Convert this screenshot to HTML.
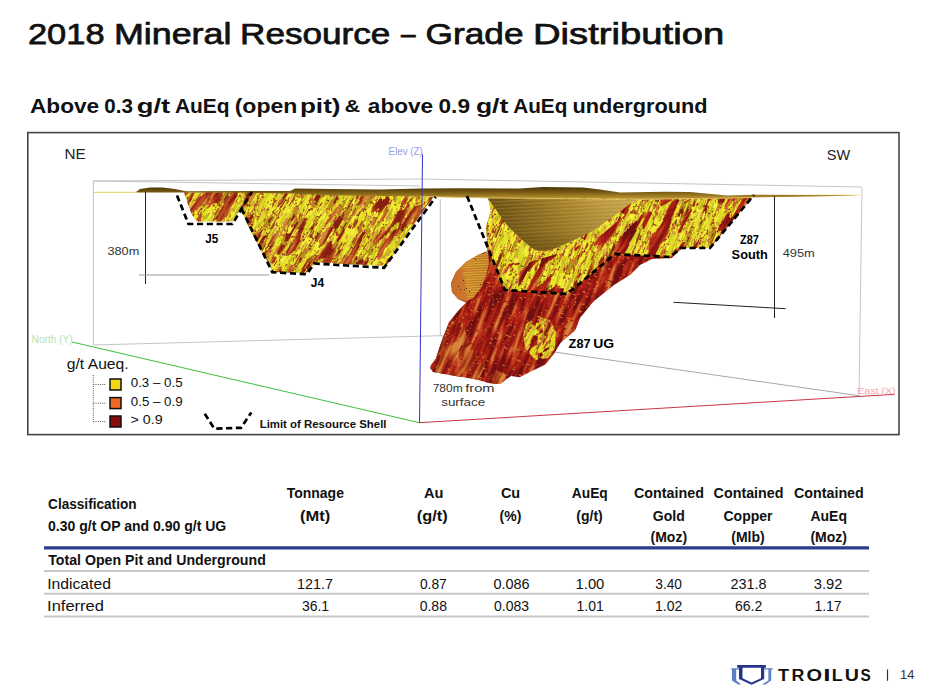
<!DOCTYPE html>
<html><head><meta charset="utf-8"><title>2018 Mineral Resource – Grade Distribution</title>
<style>
html,body{margin:0;padding:0;background:#fff;}
body{width:930px;height:692px;overflow:hidden;position:relative;}
svg{position:absolute;left:0;top:0;display:block;}
.t{font-family:"Liberation Sans",Arial,sans-serif;}
.ti{stroke:#111;stroke-width:0.75px;}
.sb{stroke:#111;stroke-width:0.25px;}
</style></head>
<body>
<svg width="930" height="692" viewBox="0 0 930 692">

<defs>
<filter id="fY" color-interpolation-filters="sRGB">
<feTurbulence type="fractalNoise" baseFrequency="0.18 0.03" numOctaves="2" seed="4"/>
<feColorMatrix type="matrix" values="1 0 0 0 0 1 0 0 0 0 1 0 0 0 0 0 0 0 0 1"/>
<feComponentTransfer result="base"><feFuncR type="discrete" tableValues="0.549 0.549 0.549 0.549 0.549 0.549 0.549 0.549 0.549 0.549 0.549 0.549 0.549 0.549 0.549 0.549 0.549 0.549 0.549 0.549 0.549 0.549 0.549 0.549 0.549 0.667 0.667 0.667 0.667 0.667 0.784 0.784 0.784 0.784 0.816 0.816 0.816 0.659 0.659 0.925 0.925 0.925 0.925 0.925 0.925 0.824 0.824 0.769 0.769 0.769 0.769 0.878 0.878 0.878 0.878 0.878 0.878 0.878 0.878 0.878 0.878 0.878 0.878 0.878 0.878 0.878 0.878 0.878 0.878 0.878 0.878 0.878 0.878 0.878 0.878 0.878 0.878 0.878 0.878 0.878"/><feFuncG type="discrete" tableValues="0.110 0.110 0.110 0.110 0.110 0.110 0.110 0.110 0.110 0.110 0.110 0.110 0.110 0.110 0.110 0.110 0.110 0.110 0.110 0.110 0.110 0.110 0.110 0.110 0.110 0.604 0.604 0.604 0.604 0.604 0.439 0.439 0.439 0.439 0.784 0.784 0.784 0.227 0.227 0.902 0.902 0.902 0.902 0.902 0.902 0.580 0.580 0.722 0.722 0.722 0.722 0.855 0.855 0.855 0.855 0.855 0.855 0.855 0.855 0.855 0.855 0.855 0.855 0.855 0.855 0.855 0.855 0.855 0.855 0.855 0.855 0.855 0.855 0.855 0.855 0.855 0.855 0.855 0.855 0.855"/><feFuncB type="discrete" tableValues="0.063 0.063 0.063 0.063 0.063 0.063 0.063 0.063 0.063 0.063 0.063 0.063 0.063 0.063 0.063 0.063 0.063 0.063 0.063 0.063 0.063 0.063 0.063 0.063 0.063 0.094 0.094 0.094 0.094 0.094 0.173 0.173 0.173 0.173 0.125 0.125 0.125 0.110 0.110 0.165 0.165 0.165 0.165 0.165 0.165 0.282 0.282 0.118 0.118 0.118 0.118 0.149 0.149 0.149 0.149 0.149 0.149 0.149 0.149 0.149 0.149 0.149 0.149 0.149 0.149 0.149 0.149 0.149 0.149 0.149 0.149 0.149 0.149 0.149 0.149 0.149 0.149 0.149 0.149 0.149"/></feComponentTransfer>
<feTurbulence type="fractalNoise" baseFrequency="0.6 0.07" numOctaves="1" seed="11"/>
<feColorMatrix type="matrix" values="0 0 0 0 0.957 0 0 0 0 0.941 0 0 0 0 0.251 1 0 0 0 0"/>
<feComponentTransfer><feFuncA type="discrete" tableValues="0 0 0 0 0 0 0 0 0 0 0 0 0 0 0 0 0 0 0 0 0 0 0 0 0 0 0 0 0 0 0 0 0 0 0 0 0 0 0 0 0 0 0 0 0 0 0 0 0 0 1 1 1 1 1 1 1 1 1 1 1 1 1 1 1 1 1 1 1 1 1 1 1 1 1 1 1 1 1 1"/></feComponentTransfer>
<feComposite in2="base" operator="over" result="sp"/>
<feTurbulence type="fractalNoise" baseFrequency="0.25 0.9" numOctaves="1" seed="13"/>
<feColorMatrix type="matrix" values="0 0 0 0 0.353 0 0 0 0 0.165 0 0 0 0 0.031 1 0 0 0 0"/>
<feComponentTransfer><feFuncA type="discrete" tableValues="0 0 0 0 0 0 0 0 0 0 0 0 0 0 0 0 0 0 0 0 0 0 0 0 0 0 0 0 0 0 0 0 0 0 0 0 0 0 0 0 0 0 0 0 0 0 0 0 0 0 0 0 0 0 0 0 0 0 1 1 1 1 1 1 1 1 1 1 1 1 1 1 1 1 1 1 1 1 1 1"/></feComponentTransfer>
<feComposite in2="sp" operator="over"/>
</filter>
<filter id="fR" color-interpolation-filters="sRGB">
<feTurbulence type="fractalNoise" baseFrequency="0.2 0.03" numOctaves="2" seed="9"/>
<feColorMatrix type="matrix" values="1 0 0 0 0 1 0 0 0 0 1 0 0 0 0 0 0 0 0 1"/>
<feComponentTransfer result="base"><feFuncR type="discrete" tableValues="0.439 0.439 0.439 0.439 0.439 0.439 0.439 0.439 0.439 0.439 0.439 0.439 0.439 0.439 0.439 0.439 0.439 0.439 0.439 0.439 0.439 0.439 0.439 0.439 0.439 0.439 0.439 0.439 0.439 0.439 0.565 0.565 0.565 0.565 0.565 0.565 0.565 0.565 0.659 0.659 0.659 0.659 0.659 0.659 0.706 0.706 0.706 0.706 0.706 0.761 0.761 0.761 0.761 0.800 0.800 0.800 0.800 0.800 0.831 0.831 0.831 0.831 0.831 0.831 0.831 0.831 0.831 0.831 0.831 0.831 0.831 0.831 0.831 0.831 0.831 0.831 0.831 0.831 0.831 0.831"/><feFuncG type="discrete" tableValues="0.063 0.063 0.063 0.063 0.063 0.063 0.063 0.063 0.063 0.063 0.063 0.063 0.063 0.063 0.063 0.063 0.063 0.063 0.063 0.063 0.063 0.063 0.063 0.063 0.063 0.063 0.063 0.063 0.063 0.063 0.086 0.086 0.086 0.086 0.086 0.086 0.086 0.086 0.118 0.118 0.118 0.118 0.118 0.118 0.165 0.165 0.165 0.165 0.165 0.259 0.259 0.259 0.259 0.392 0.392 0.392 0.392 0.392 0.525 0.525 0.525 0.525 0.525 0.525 0.525 0.525 0.525 0.525 0.525 0.525 0.525 0.525 0.525 0.525 0.525 0.525 0.525 0.525 0.525 0.525"/><feFuncB type="discrete" tableValues="0.063 0.063 0.063 0.063 0.063 0.063 0.063 0.063 0.063 0.063 0.063 0.063 0.063 0.063 0.063 0.063 0.063 0.063 0.063 0.063 0.063 0.063 0.063 0.063 0.063 0.063 0.063 0.063 0.063 0.063 0.071 0.071 0.071 0.071 0.071 0.071 0.071 0.071 0.078 0.078 0.078 0.078 0.078 0.078 0.094 0.094 0.094 0.094 0.094 0.125 0.125 0.125 0.125 0.188 0.188 0.188 0.188 0.188 0.227 0.227 0.227 0.227 0.227 0.227 0.227 0.227 0.227 0.227 0.227 0.227 0.227 0.227 0.227 0.227 0.227 0.227 0.227 0.227 0.227 0.227"/></feComponentTransfer>
<feTurbulence type="fractalNoise" baseFrequency="0.25 0.9" numOctaves="1" seed="21"/>
<feColorMatrix type="matrix" values="0 0 0 0 0.847 0 0 0 0 0.471 0 0 0 0 0.204 1 0 0 0 0"/>
<feComponentTransfer><feFuncA type="discrete" tableValues="0 0 0 0 0 0 0 0 0 0 0 0 0 0 0 0 0 0 0 0 0 0 0 0 0 0 0 0 0 0 0 0 0 0 0 0 0 0 0 0 0 0 0 0 0 0 0 0 0 0 0 0 0 0 1 1 1 1 1 1 1 1 1 1 1 1 1 1 1 1 1 1 1 1 1 1 1 1 1 1"/></feComponentTransfer>
<feComposite in2="base" operator="over" result="sp"/>
<feTurbulence type="fractalNoise" baseFrequency="0.25 0.9" numOctaves="1" seed="23"/>
<feColorMatrix type="matrix" values="0 0 0 0 0.416 0 0 0 0 0.047 0 0 0 0 0.031 1 0 0 0 0"/>
<feComponentTransfer><feFuncA type="discrete" tableValues="0 0 0 0 0 0 0 0 0 0 0 0 0 0 0 0 0 0 0 0 0 0 0 0 0 0 0 0 0 0 0 0 0 0 0 0 0 0 0 0 0 0 0 0 0 0 0 0 0 0 0 0 0 0 0 0 0 1 1 1 1 1 1 1 1 1 1 1 1 1 1 1 1 1 1 1 1 1 1 1"/></feComponentTransfer>
<feComposite in2="sp" operator="over"/>
</filter>
<filter id="fRB" color-interpolation-filters="sRGB">
<feTurbulence type="fractalNoise" baseFrequency="0.2 0.03" numOctaves="2" seed="31"/>
<feColorMatrix type="matrix" values="1 0 0 0 0 1 0 0 0 0 1 0 0 0 0 0 0 0 0 1"/>
<feComponentTransfer result="base"><feFuncR type="discrete" tableValues="0.439 0.439 0.439 0.439 0.439 0.439 0.439 0.439 0.439 0.439 0.439 0.439 0.439 0.439 0.439 0.439 0.439 0.439 0.439 0.439 0.439 0.439 0.439 0.439 0.439 0.439 0.439 0.439 0.439 0.439 0.565 0.565 0.565 0.565 0.565 0.565 0.565 0.565 0.659 0.659 0.659 0.659 0.659 0.659 0.706 0.706 0.706 0.706 0.706 0.761 0.761 0.761 0.761 0.800 0.800 0.800 0.800 0.800 0.831 0.831 0.831 0.831 0.831 0.831 0.831 0.831 0.831 0.831 0.831 0.831 0.831 0.831 0.831 0.831 0.831 0.831 0.831 0.831 0.831 0.831"/><feFuncG type="discrete" tableValues="0.063 0.063 0.063 0.063 0.063 0.063 0.063 0.063 0.063 0.063 0.063 0.063 0.063 0.063 0.063 0.063 0.063 0.063 0.063 0.063 0.063 0.063 0.063 0.063 0.063 0.063 0.063 0.063 0.063 0.063 0.086 0.086 0.086 0.086 0.086 0.086 0.086 0.086 0.118 0.118 0.118 0.118 0.118 0.118 0.165 0.165 0.165 0.165 0.165 0.259 0.259 0.259 0.259 0.392 0.392 0.392 0.392 0.392 0.525 0.525 0.525 0.525 0.525 0.525 0.525 0.525 0.525 0.525 0.525 0.525 0.525 0.525 0.525 0.525 0.525 0.525 0.525 0.525 0.525 0.525"/><feFuncB type="discrete" tableValues="0.063 0.063 0.063 0.063 0.063 0.063 0.063 0.063 0.063 0.063 0.063 0.063 0.063 0.063 0.063 0.063 0.063 0.063 0.063 0.063 0.063 0.063 0.063 0.063 0.063 0.063 0.063 0.063 0.063 0.063 0.071 0.071 0.071 0.071 0.071 0.071 0.071 0.071 0.078 0.078 0.078 0.078 0.078 0.078 0.094 0.094 0.094 0.094 0.094 0.125 0.125 0.125 0.125 0.188 0.188 0.188 0.188 0.188 0.227 0.227 0.227 0.227 0.227 0.227 0.227 0.227 0.227 0.227 0.227 0.227 0.227 0.227 0.227 0.227 0.227 0.227 0.227 0.227 0.227 0.227"/></feComponentTransfer>
<feTurbulence type="fractalNoise" baseFrequency="0.09 0.02" numOctaves="2" seed="77"/>
<feColorMatrix type="matrix" values="0 0 0 0 0 0 0 0 0 0 0 0 0 0 0 1 0 0 0 0"/>
<feComponentTransfer result="am"><feFuncA type="discrete" tableValues="0 0 0 0 0 0 0 0 0 0 0 0 0 0 0 0 0 0 0 0 0 0 0 0 0 0 0 0 0 0 0 0 0 0 0 0 0 0 0 0 0 0 0 1 1 1 1 1 1 1 1 1 1 1 1 1 1 1 1 1 1 1 1 1 1 1 1 1 1 1 1 1 1 1 1 1 1 1 1 1"/></feComponentTransfer>
<feComposite in="base" in2="am" operator="in"/>
</filter>
<filter id="fRB2" color-interpolation-filters="sRGB">
<feTurbulence type="fractalNoise" baseFrequency="0.2 0.03" numOctaves="2" seed="41"/>
<feColorMatrix type="matrix" values="1 0 0 0 0 1 0 0 0 0 1 0 0 0 0 0 0 0 0 1"/>
<feComponentTransfer result="base"><feFuncR type="discrete" tableValues="0.541 0.541 0.541 0.541 0.541 0.541 0.541 0.541 0.541 0.541 0.541 0.541 0.541 0.541 0.541 0.541 0.541 0.541 0.541 0.541 0.541 0.541 0.541 0.541 0.541 0.541 0.541 0.541 0.541 0.541 0.541 0.541 0.643 0.643 0.643 0.643 0.643 0.643 0.643 0.643 0.737 0.737 0.737 0.737 0.737 0.737 0.800 0.800 0.800 0.800 0.800 0.800 0.831 0.831 0.831 0.831 0.831 0.831 0.831 0.831 0.831 0.831 0.831 0.831 0.831 0.831 0.831 0.831 0.831 0.831 0.831 0.831 0.831 0.831 0.831 0.831 0.831 0.831 0.831 0.831"/><feFuncG type="discrete" tableValues="0.125 0.125 0.125 0.125 0.125 0.125 0.125 0.125 0.125 0.125 0.125 0.125 0.125 0.125 0.125 0.125 0.125 0.125 0.125 0.125 0.125 0.125 0.125 0.125 0.125 0.125 0.125 0.125 0.125 0.125 0.125 0.125 0.204 0.204 0.204 0.204 0.204 0.204 0.204 0.204 0.314 0.314 0.314 0.314 0.314 0.314 0.424 0.424 0.424 0.424 0.424 0.424 0.541 0.541 0.541 0.541 0.541 0.541 0.541 0.541 0.541 0.541 0.541 0.541 0.541 0.541 0.541 0.541 0.541 0.541 0.541 0.541 0.541 0.541 0.541 0.541 0.541 0.541 0.541 0.541"/><feFuncB type="discrete" tableValues="0.063 0.063 0.063 0.063 0.063 0.063 0.063 0.063 0.063 0.063 0.063 0.063 0.063 0.063 0.063 0.063 0.063 0.063 0.063 0.063 0.063 0.063 0.063 0.063 0.063 0.063 0.063 0.063 0.063 0.063 0.063 0.063 0.094 0.094 0.094 0.094 0.094 0.094 0.094 0.094 0.133 0.133 0.133 0.133 0.133 0.133 0.173 0.173 0.173 0.173 0.173 0.173 0.235 0.235 0.235 0.235 0.235 0.235 0.235 0.235 0.235 0.235 0.235 0.235 0.235 0.235 0.235 0.235 0.235 0.235 0.235 0.235 0.235 0.235 0.235 0.235 0.235 0.235 0.235 0.235"/></feComponentTransfer>
<feTurbulence type="fractalNoise" baseFrequency="0.12 0.025" numOctaves="2" seed="87"/>
<feColorMatrix type="matrix" values="0 0 0 0 0 0 0 0 0 0 0 0 0 0 0 1 0 0 0 0"/>
<feComponentTransfer result="am"><feFuncA type="discrete" tableValues="0 0 0 0 0 0 0 0 0 0 0 0 0 0 0 0 0 0 0 0 0 0 0 0 0 0 0 0 0 0 0 0 0 0 0 0 0 0 0 0 0 0 0 0 0 0 0 0 0 0 0 1 1 1 1 1 1 1 1 1 1 1 1 1 1 1 1 1 1 1 1 1 1 1 1 1 1 1 1 1"/></feComponentTransfer>
<feComposite in="base" in2="am" operator="in"/>
</filter>
<filter id="fRB3" color-interpolation-filters="sRGB">
<feTurbulence type="fractalNoise" baseFrequency="0.2 0.03" numOctaves="2" seed="43"/>
<feColorMatrix type="matrix" values="1 0 0 0 0 1 0 0 0 0 1 0 0 0 0 0 0 0 0 1"/>
<feComponentTransfer result="base"><feFuncR type="discrete" tableValues="0.541 0.541 0.541 0.541 0.541 0.541 0.541 0.541 0.541 0.541 0.541 0.541 0.541 0.541 0.541 0.541 0.541 0.541 0.541 0.541 0.541 0.541 0.541 0.541 0.541 0.541 0.541 0.541 0.541 0.541 0.541 0.541 0.643 0.643 0.643 0.643 0.643 0.643 0.643 0.643 0.737 0.737 0.737 0.737 0.737 0.737 0.800 0.800 0.800 0.800 0.800 0.800 0.831 0.831 0.831 0.831 0.831 0.831 0.831 0.831 0.831 0.831 0.831 0.831 0.831 0.831 0.831 0.831 0.831 0.831 0.831 0.831 0.831 0.831 0.831 0.831 0.831 0.831 0.831 0.831"/><feFuncG type="discrete" tableValues="0.125 0.125 0.125 0.125 0.125 0.125 0.125 0.125 0.125 0.125 0.125 0.125 0.125 0.125 0.125 0.125 0.125 0.125 0.125 0.125 0.125 0.125 0.125 0.125 0.125 0.125 0.125 0.125 0.125 0.125 0.125 0.125 0.204 0.204 0.204 0.204 0.204 0.204 0.204 0.204 0.314 0.314 0.314 0.314 0.314 0.314 0.424 0.424 0.424 0.424 0.424 0.424 0.541 0.541 0.541 0.541 0.541 0.541 0.541 0.541 0.541 0.541 0.541 0.541 0.541 0.541 0.541 0.541 0.541 0.541 0.541 0.541 0.541 0.541 0.541 0.541 0.541 0.541 0.541 0.541"/><feFuncB type="discrete" tableValues="0.063 0.063 0.063 0.063 0.063 0.063 0.063 0.063 0.063 0.063 0.063 0.063 0.063 0.063 0.063 0.063 0.063 0.063 0.063 0.063 0.063 0.063 0.063 0.063 0.063 0.063 0.063 0.063 0.063 0.063 0.063 0.063 0.094 0.094 0.094 0.094 0.094 0.094 0.094 0.094 0.133 0.133 0.133 0.133 0.133 0.133 0.173 0.173 0.173 0.173 0.173 0.173 0.235 0.235 0.235 0.235 0.235 0.235 0.235 0.235 0.235 0.235 0.235 0.235 0.235 0.235 0.235 0.235 0.235 0.235 0.235 0.235 0.235 0.235 0.235 0.235 0.235 0.235 0.235 0.235"/></feComponentTransfer>
<feTurbulence type="fractalNoise" baseFrequency="0.12 0.025" numOctaves="2" seed="97"/>
<feColorMatrix type="matrix" values="0 0 0 0 0 0 0 0 0 0 0 0 0 0 0 1 0 0 0 0"/>
<feComponentTransfer result="am"><feFuncA type="discrete" tableValues="0 0 0 0 0 0 0 0 0 0 0 0 0 0 0 0 0 0 0 0 0 0 0 0 0 0 0 0 0 0 0 0 0 0 0 0 0 0 0 0 0 0 0 0 0 0 0 1 1 1 1 1 1 1 1 1 1 1 1 1 1 1 1 1 1 1 1 1 1 1 1 1 1 1 1 1 1 1 1 1"/></feComponentTransfer>
<feComposite in="base" in2="am" operator="in"/>
</filter>
<filter id="fRB5" color-interpolation-filters="sRGB">
<feTurbulence type="fractalNoise" baseFrequency="0.2 0.03" numOctaves="2" seed="45"/>
<feColorMatrix type="matrix" values="1 0 0 0 0 1 0 0 0 0 1 0 0 0 0 0 0 0 0 1"/>
<feComponentTransfer result="base"><feFuncR type="discrete" tableValues="0.541 0.541 0.541 0.541 0.541 0.541 0.541 0.541 0.541 0.541 0.541 0.541 0.541 0.541 0.541 0.541 0.541 0.541 0.541 0.541 0.541 0.541 0.541 0.541 0.541 0.541 0.541 0.541 0.541 0.541 0.541 0.541 0.643 0.643 0.643 0.643 0.643 0.643 0.643 0.643 0.737 0.737 0.737 0.737 0.737 0.737 0.800 0.800 0.800 0.800 0.800 0.800 0.831 0.831 0.831 0.831 0.831 0.831 0.831 0.831 0.831 0.831 0.831 0.831 0.831 0.831 0.831 0.831 0.831 0.831 0.831 0.831 0.831 0.831 0.831 0.831 0.831 0.831 0.831 0.831"/><feFuncG type="discrete" tableValues="0.125 0.125 0.125 0.125 0.125 0.125 0.125 0.125 0.125 0.125 0.125 0.125 0.125 0.125 0.125 0.125 0.125 0.125 0.125 0.125 0.125 0.125 0.125 0.125 0.125 0.125 0.125 0.125 0.125 0.125 0.125 0.125 0.204 0.204 0.204 0.204 0.204 0.204 0.204 0.204 0.314 0.314 0.314 0.314 0.314 0.314 0.424 0.424 0.424 0.424 0.424 0.424 0.541 0.541 0.541 0.541 0.541 0.541 0.541 0.541 0.541 0.541 0.541 0.541 0.541 0.541 0.541 0.541 0.541 0.541 0.541 0.541 0.541 0.541 0.541 0.541 0.541 0.541 0.541 0.541"/><feFuncB type="discrete" tableValues="0.063 0.063 0.063 0.063 0.063 0.063 0.063 0.063 0.063 0.063 0.063 0.063 0.063 0.063 0.063 0.063 0.063 0.063 0.063 0.063 0.063 0.063 0.063 0.063 0.063 0.063 0.063 0.063 0.063 0.063 0.063 0.063 0.094 0.094 0.094 0.094 0.094 0.094 0.094 0.094 0.133 0.133 0.133 0.133 0.133 0.133 0.173 0.173 0.173 0.173 0.173 0.173 0.235 0.235 0.235 0.235 0.235 0.235 0.235 0.235 0.235 0.235 0.235 0.235 0.235 0.235 0.235 0.235 0.235 0.235 0.235 0.235 0.235 0.235 0.235 0.235 0.235 0.235 0.235 0.235"/></feComponentTransfer>
<feTurbulence type="fractalNoise" baseFrequency="0.14 0.04" numOctaves="2" seed="57"/>
<feColorMatrix type="matrix" values="0 0 0 0 0 0 0 0 0 0 0 0 0 0 0 1 0 0 0 0"/>
<feComponentTransfer result="am"><feFuncA type="discrete" tableValues="0 0 0 0 0 0 0 0 0 0 0 0 0 0 0 0 0 0 0 0 0 0 0 0 0 0 0 0 0 0 0 0 0 0 0 0 0 0 0 1 1 1 1 1 1 1 1 1 1 1 1 1 1 1 1 1 1 1 1 1 1 1 1 1 1 1 1 1 1 1 1 1 1 1 1 1 1 1 1 1"/></feComponentTransfer>
<feComposite in="base" in2="am" operator="in"/>
</filter>
<filter id="fYB" color-interpolation-filters="sRGB">
<feTurbulence type="fractalNoise" baseFrequency="0.18 0.03" numOctaves="2" seed="47"/>
<feColorMatrix type="matrix" values="1 0 0 0 0 1 0 0 0 0 1 0 0 0 0 0 0 0 0 1"/>
<feComponentTransfer result="base"><feFuncR type="discrete" tableValues="0.549 0.549 0.549 0.549 0.549 0.549 0.549 0.549 0.549 0.549 0.549 0.549 0.549 0.549 0.549 0.549 0.549 0.549 0.549 0.549 0.549 0.549 0.549 0.549 0.549 0.667 0.667 0.667 0.667 0.667 0.784 0.784 0.784 0.784 0.816 0.816 0.816 0.659 0.659 0.925 0.925 0.925 0.925 0.925 0.925 0.824 0.824 0.769 0.769 0.769 0.769 0.878 0.878 0.878 0.878 0.878 0.878 0.878 0.878 0.878 0.878 0.878 0.878 0.878 0.878 0.878 0.878 0.878 0.878 0.878 0.878 0.878 0.878 0.878 0.878 0.878 0.878 0.878 0.878 0.878"/><feFuncG type="discrete" tableValues="0.110 0.110 0.110 0.110 0.110 0.110 0.110 0.110 0.110 0.110 0.110 0.110 0.110 0.110 0.110 0.110 0.110 0.110 0.110 0.110 0.110 0.110 0.110 0.110 0.110 0.604 0.604 0.604 0.604 0.604 0.439 0.439 0.439 0.439 0.784 0.784 0.784 0.227 0.227 0.902 0.902 0.902 0.902 0.902 0.902 0.580 0.580 0.722 0.722 0.722 0.722 0.855 0.855 0.855 0.855 0.855 0.855 0.855 0.855 0.855 0.855 0.855 0.855 0.855 0.855 0.855 0.855 0.855 0.855 0.855 0.855 0.855 0.855 0.855 0.855 0.855 0.855 0.855 0.855 0.855"/><feFuncB type="discrete" tableValues="0.063 0.063 0.063 0.063 0.063 0.063 0.063 0.063 0.063 0.063 0.063 0.063 0.063 0.063 0.063 0.063 0.063 0.063 0.063 0.063 0.063 0.063 0.063 0.063 0.063 0.094 0.094 0.094 0.094 0.094 0.173 0.173 0.173 0.173 0.125 0.125 0.125 0.110 0.110 0.165 0.165 0.165 0.165 0.165 0.165 0.282 0.282 0.118 0.118 0.118 0.118 0.149 0.149 0.149 0.149 0.149 0.149 0.149 0.149 0.149 0.149 0.149 0.149 0.149 0.149 0.149 0.149 0.149 0.149 0.149 0.149 0.149 0.149 0.149 0.149 0.149 0.149 0.149 0.149 0.149"/></feComponentTransfer>
<feTurbulence type="fractalNoise" baseFrequency="0.15 0.06" numOctaves="2" seed="68"/>
<feColorMatrix type="matrix" values="0 0 0 0 0 0 0 0 0 0 0 0 0 0 0 1 0 0 0 0"/>
<feComponentTransfer result="am"><feFuncA type="discrete" tableValues="0 0 0 0 0 0 0 0 0 0 0 0 0 0 0 0 0 0 0 0 0 0 0 0 0 0 0 0 0 0 0 0 0 0 1 1 1 1 1 1 1 1 1 1 1 1 1 1 1 1 1 1 1 1 1 1 1 1 1 1 1 1 1 1 1 1 1 1 1 1 1 1 1 1 1 1 1 1 1 1"/></feComponentTransfer>
<feComposite in="base" in2="am" operator="in"/>
</filter>
<filter id="fSpk" color-interpolation-filters="sRGB">
<feTurbulence type="fractalNoise" baseFrequency="0.9 0.5" numOctaves="1" seed="5"/>
<feColorMatrix type="matrix" values="0 0 0 0 0.35 0 0 0 0 0.12 0 0 0 0 0.04 1 0 0 0 0"/>
<feComponentTransfer><feFuncA type="discrete" tableValues="0 0 0 0 0 0 0 0 0 0 0 0 0 0 0 0 0 0 0 0 0 0 0 0 0 0 0 0 0 0 0 0 0 0 0 0 0 0 0 0 0 0 0 0 0 0 0 0 0 0 0 0 0 0 0 1 1 1 1 1 1 1 1 1 1 1 1 1 1 1 1 1 1 1 1 1 1 1 1 1"/></feComponentTransfer>
</filter>

  <linearGradient id="gFun" x1="487" y1="0" x2="642" y2="0" gradientUnits="userSpaceOnUse">
    <stop offset="0" stop-color="#6a4e12"/>
    <stop offset="0.25" stop-color="#8c6c20"/>
    <stop offset="0.5" stop-color="#b08a30"/>
    <stop offset="0.75" stop-color="#c8a448"/>
    <stop offset="1" stop-color="#d6b458"/>
  </linearGradient>
  <linearGradient id="gFunV" x1="0" y1="197" x2="0" y2="253" gradientUnits="userSpaceOnUse">
    <stop offset="0" stop-color="#000" stop-opacity="0"/>
    <stop offset="0.6" stop-color="#3a2800" stop-opacity="0.15"/>
    <stop offset="1" stop-color="#3a2800" stop-opacity="0.45"/>
  </linearGradient>
  <pattern id="pFun" width="7" height="3.6" patternUnits="userSpaceOnUse" patternTransform="rotate(-3)">
    <rect y="0" width="7" height="1" fill="#e8c060" opacity="0.25"/>
    <rect y="2.4" width="7" height="0.8" fill="#4a3204" opacity="0.2"/>
  </pattern>
  <linearGradient id="gBand" x1="0" y1="187" x2="0" y2="199" gradientUnits="userSpaceOnUse">
    <stop offset="0" stop-color="#4a3406"/>
    <stop offset="0.45" stop-color="#7a5c14"/>
    <stop offset="0.8" stop-color="#a88428"/>
    <stop offset="1" stop-color="#c09a38"/>
  </linearGradient>
  <linearGradient id="gDown1" x1="0" y1="195" x2="0" y2="272" gradientUnits="userSpaceOnUse">
    <stop offset="0" stop-color="#fff" stop-opacity="0"/>
    <stop offset="0.45" stop-color="#fff" stop-opacity="0.15"/>
    <stop offset="1" stop-color="#fff" stop-opacity="0.85"/>
  </linearGradient>
  <mask id="mJ" maskUnits="userSpaceOnUse" x="100" y="150" width="400" height="150"><rect x="100" y="150" width="400" height="150" fill="url(#gDown1)"/></mask>
  <linearGradient id="gDown2" x1="0" y1="198" x2="0" y2="295" gradientUnits="userSpaceOnUse">
    <stop offset="0" stop-color="#fff" stop-opacity="0"/>
    <stop offset="0.5" stop-color="#fff" stop-opacity="0.25"/>
    <stop offset="1" stop-color="#fff" stop-opacity="0.8"/>
  </linearGradient>
  <mask id="mZ" maskUnits="userSpaceOnUse" x="400" y="150" width="450" height="200"><rect x="400" y="150" width="450" height="200" fill="url(#gDown2)"/></mask>
  <linearGradient id="gRight" x1="630" y1="0" x2="760" y2="0" gradientUnits="userSpaceOnUse">
    <stop offset="0" stop-color="#fff" stop-opacity="0"/>
    <stop offset="0.5" stop-color="#fff" stop-opacity="0.45"/>
    <stop offset="1" stop-color="#fff" stop-opacity="0.6"/>
  </linearGradient>
  <mask id="mR" maskUnits="userSpaceOnUse" x="600" y="180" width="200" height="120"><rect x="600" y="180" width="200" height="120" fill="url(#gRight)"/></mask>
  <clipPath id="cRB"><path d="M600,198 L752,197.5 L710,248 L681,248 L670,257 L615,254 L567,294 L505,290 L496,265 L530,262 L570,250 L600,236 L625,215 Z"/></clipPath>
  <clipPath id="cJlow"><path d="M240,238 L300,232 L360,222 L420,205 L440,205 L420,240 L400,280 L240,280 Z"/></clipPath>
  <clipPath id="cTail"><path d="M425,372 L432,350 L440,338 L450,322 L462,320 L470,345 L480,362 L500,372 L515,378 L500,390 L470,385 L440,380 Z"/></clipPath>
  <linearGradient id="gBlob" x1="451" y1="0" x2="490" y2="0" gradientUnits="userSpaceOnUse">
    <stop offset="0" stop-color="#c86c2c"/>
    <stop offset="0.45" stop-color="#cc7a30"/>
    <stop offset="1" stop-color="#b86a28"/>
  </linearGradient>
  <clipPath id="cJ"><path d="M184,192.5 L252,192 L420,195.5 L434,196.5 L420,215 L402,242 L386,266 L344,264 L316,262 L306,273 L273,272 L262,252 L250,230 L244,216 L239,211 L233,221.5 L197,221.5 L192,215 L188,204 Z"/></clipPath>
  <clipPath id="cJ5"><path d="M184,192.5 L238,192.5 L234,203 L226,214 L214,220 L198,221.5 L192,215 L188,204 Z"/></clipPath>
  <clipPath id="cZ"><path d="M488,197.5 L752,197.5 L712,246 L683,247 L672,258 L652,259 L640,265 L630,275 L614,285 L594,301 L580,318 L575.5,330 L560.5,343 L554,353.7 L545.4,364.4 L532,371 L519.6,377.3 L511,376 L500,384 L491,383.5 L474,379 L452,375.5 L433,372 L430,368 L431,365 L436,358 L442,340 L449,322 L458,311 L466,302.5 L458,299 L452,292 L451,283 L456,272 L466,262 L478,255 L487,251 L487,240 L486,227 L491,211 Z"/></clipPath>
  <clipPath id="cZY"><path d="M488,197.5 L752,197.5 L710,248 L681,248 L670,257 L615,254 L567,294 L505,290 L493,262 L487,240 L486,227 L491,211 Z"/></clipPath>
  <clipPath id="cBlob"><path d="M488,252 L478,255 L466,262 L456,272 L451,283 L452,292 L458,299 L466,301.5 L474,297 L481,288 L486,276 L489,263 Z"/></clipPath>
  <clipPath id="cYP"><path d="M526,324 L538,316 L550,320 L556,332 L555,348 L548,358 L536,360 L526,350 L523,336 Z"/></clipPath>
</defs>

<text class="t ti" x="27.98" y="44.0" font-size="30" fill="#111" textLength="76.59" lengthAdjust="spacingAndGlyphs">2018</text>
<text class="t ti" x="113.93" y="44.0" font-size="30" fill="#111" textLength="117.54" lengthAdjust="spacingAndGlyphs">Mineral</text>
<text class="t ti" x="240.09" y="44.0" font-size="30" fill="#111" textLength="150.18" lengthAdjust="spacingAndGlyphs">Resource</text>
<text class="t ti" x="401.00" y="44.0" font-size="30" fill="#111" textLength="14.53" lengthAdjust="spacingAndGlyphs">–</text>
<text class="t ti" x="425.64" y="44.0" font-size="30" fill="#111" textLength="97.93" lengthAdjust="spacingAndGlyphs">Grade</text>
<text class="t ti" x="532.94" y="44.0" font-size="30" fill="#111" textLength="191.22" lengthAdjust="spacingAndGlyphs">Distribution</text>
<text class="t" x="30.03" y="112.6" font-size="19.5" font-weight="bold" fill="#111" textLength="69.19" lengthAdjust="spacingAndGlyphs">Above</text>
<text class="t" x="104.38" y="112.6" font-size="19.5" font-weight="bold" fill="#111" textLength="28.65" lengthAdjust="spacingAndGlyphs">0.3</text>
<text class="t" x="136.81" y="112.6" font-size="19.5" font-weight="bold" fill="#111" textLength="33.41" lengthAdjust="spacingAndGlyphs">g/t</text>
<text class="t" x="174.98" y="112.6" font-size="19.5" font-weight="bold" fill="#111" textLength="54.60" lengthAdjust="spacingAndGlyphs">AuEq</text>
<text class="t" x="234.65" y="112.6" font-size="19.5" font-weight="bold" fill="#111" textLength="62.78" lengthAdjust="spacingAndGlyphs">(open</text>
<text class="t" x="299.90" y="112.6" font-size="19.5" font-weight="bold" fill="#111" textLength="40.70" lengthAdjust="spacingAndGlyphs">pit)</text>
<text class="t" x="367.82" y="112.6" font-size="19.5" font-weight="bold" fill="#111" textLength="65.38" lengthAdjust="spacingAndGlyphs">above</text>
<text class="t" x="438.49" y="112.6" font-size="19.5" font-weight="bold" fill="#111" textLength="31.50" lengthAdjust="spacingAndGlyphs">0.9</text>
<text class="t" x="475.94" y="112.6" font-size="19.5" font-weight="bold" fill="#111" textLength="32.37" lengthAdjust="spacingAndGlyphs">g/t</text>
<text class="t" x="513.18" y="112.6" font-size="19.5" font-weight="bold" fill="#111" textLength="54.19" lengthAdjust="spacingAndGlyphs">AuEq</text>
<text class="t" x="572.40" y="112.6" font-size="19.5" font-weight="bold" fill="#111" textLength="135.04" lengthAdjust="spacingAndGlyphs">underground</text>
<text class="t" x="344.52" y="112.3" font-size="17" font-weight="bold" fill="#111" textLength="15.68" lengthAdjust="spacingAndGlyphs">&amp;</text>
<!-- Figure frame -->
<rect x="27.8" y="132.6" width="871.2" height="302" fill="#fff" stroke="#444" stroke-width="1.6"/>

<!-- 3D box lines -->
<g stroke="#c4c4c4" stroke-width="1" fill="none">
  <polyline points="93.3,181 420,179 862,187"/>
  <line x1="93.3" y1="181" x2="420" y2="186"/>
  <line x1="93.3" y1="181" x2="93.3" y2="345"/>
  <line x1="862" y1="187" x2="859" y2="396"/>
  <line x1="440.3" y1="199" x2="440.3" y2="336"/>
  <line x1="93.3" y1="345" x2="440.3" y2="335.7"/>
  <line x1="440.3" y1="335.7" x2="858.9" y2="395.7" stroke="#a8a8a8"/>
</g>
<line x1="93" y1="192.3" x2="140" y2="192.3" stroke="#e8c860" stroke-width="1"/>
<line x1="754" y1="195.5" x2="860" y2="195" stroke="#f0e080" stroke-width="1"/>

<!-- axes -->
<line x1="72" y1="342" x2="419.3" y2="422.7" stroke="#3cbf3c" stroke-width="1"/>
<line x1="419.3" y1="422.7" x2="895" y2="394.3" stroke="#cc3444" stroke-width="1"/>

<!-- J4/J5 ore -->
<g clip-path="url(#cJ)">
  <g transform="rotate(30 330 230)"><rect x="100" y="60" width="460" height="340" filter="url(#fY)"/></g>
  <g transform="rotate(30 330 230)"><rect x="100" y="60" width="460" height="340" filter="url(#fRB2)"/></g>
  <g clip-path="url(#cJlow)"><g transform="rotate(30 330 230)"><rect x="100" y="60" width="460" height="340" filter="url(#fRB3)"/></g></g>
</g>
<g clip-path="url(#cJ5)">
  <g transform="rotate(35 210 205)"><rect x="130" y="120" width="160" height="170" filter="url(#fRB5)"/></g>
</g>

<!-- Z87 ore: red base -->
<g clip-path="url(#cZ)">
  <g transform="rotate(22 540 290)"><rect x="330" y="80" width="460" height="440" filter="url(#fR)"/></g>
</g>
<!-- Z87 upper yellow -->
<g clip-path="url(#cZY)">
  <g transform="rotate(22 600 240)"><rect x="400" y="60" width="440" height="380" filter="url(#fY)"/></g>
  <g clip-path="url(#cRB)"><g transform="rotate(30 600 240)"><rect x="330" y="80" width="560" height="440" filter="url(#fRB)"/></g></g>
</g>
<g clip-path="url(#cZ)"><g clip-path="url(#cTail)"><g transform="rotate(25 470 360)"><rect x="380" y="280" width="180" height="160" filter="url(#fRB5)"/></g></g></g>
<!-- yellow patch in UG -->
<g clip-path="url(#cZ)"><g clip-path="url(#cYP)">
  <g transform="rotate(28 540 340)"><rect x="480" y="280" width="120" height="120" filter="url(#fYB)"/></g>
</g></g>
<!-- orange blob -->
<g clip-path="url(#cBlob)">
  <rect x="440" y="245" width="60" height="65" fill="url(#gBlob)"/>
  <g stroke="#d4b030" stroke-width="1.1" opacity="0.9">
    <line x1="461.0" y1="253.5" x2="492" y2="252.0"/>
    <line x1="462.5" y1="255.9" x2="492" y2="254.4"/>
    <line x1="462.0" y1="258.3" x2="492" y2="256.8"/>
    <line x1="463.2" y1="260.7" x2="492" y2="259.2"/>
    <line x1="463.5" y1="263.1" x2="492" y2="261.6"/>
    <line x1="461.5" y1="265.5" x2="492" y2="264.0"/>
    <line x1="461.5" y1="267.9" x2="492" y2="266.4"/>
    <line x1="465.1" y1="270.3" x2="492" y2="268.8"/>
    <line x1="463.0" y1="272.7" x2="492" y2="271.2"/>
    <line x1="463.1" y1="275.1" x2="492" y2="273.6"/>
    <line x1="466.4" y1="277.5" x2="492" y2="276.0"/>
    <line x1="464.6" y1="279.9" x2="492" y2="278.4"/>
    <line x1="466.3" y1="282.3" x2="492" y2="280.8"/>
    <line x1="465.1" y1="284.7" x2="492" y2="283.2"/>
    <line x1="466.0" y1="287.1" x2="492" y2="285.6"/>
    <line x1="464.3" y1="289.5" x2="492" y2="288.0"/>
    <line x1="466.4" y1="291.9" x2="492" y2="290.4"/>
    <line x1="467.6" y1="294.3" x2="492" y2="292.8"/>
    <line x1="466.5" y1="296.7" x2="492" y2="295.2"/>
    <line x1="467.6" y1="299.1" x2="492" y2="297.6"/>
  </g>
  <g transform="rotate(25 470 275)"><rect x="430" y="230" width="80" height="90" filter="url(#fSpk)"/></g>
</g>

<!-- funnel -->
<path id="fun" d="M487.4,198 L642,199.5 L637.5,200 L629.3,204.5 L613,216.8 L592.6,231 L572,241 L556,248 L546,251 L537.4,250.5 L531.3,247.4 L519,237.2 L506.8,225 L496.6,210.6 Z" fill="url(#gFun)"/>
<path d="M487.4,198 L642,199.5 L637.5,200 L629.3,204.5 L613,216.8 L592.6,231 L572,241 L556,248 L546,251 L537.4,250.5 L531.3,247.4 L519,237.2 L506.8,225 L496.6,210.6 Z" fill="url(#pFun)"/>
<path d="M487.4,198 L642,199.5 L637.5,200 L629.3,204.5 L613,216.8 L592.6,231 L572,241 L556,248 L546,251 L537.4,250.5 L531.3,247.4 L519,237.2 L506.8,225 L496.6,210.6 Z" fill="url(#gFunV)"/>

<!-- surface band -->
<path d="M136,192 L140,189 L150,187.5 L162,187.5 L175,189 L186,191.2 L290,191 L295,188.6 L330,189 L380,189.5 L420,188.5 L460,188.3 L520,188.5 L543,187.1 L583,187.5 L600,189.5 L620,192.6 L665,191.8 L690,192 L727,195.5 L753,194.8 L800,195 L848,195.3 L857,195.6 L800,196.8 L753,197.5 L727,198.5 L680,199 L642,199.5 L620,198.8 L487,197.9 L460,197.7 L420,196.3 L330,195.6 L292,193.6 L250,192.8 L186,192.6 L140,192.4 Z" fill="url(#gBand)"/>
<polyline points="420,196.6 487,197.9 642,199.3 753,197.6" fill="none" stroke="#e8d078" stroke-width="0.8" opacity="0.9"/>

<!-- Dashed resource shells -->

<!-- Dashed resource shells -->
<g fill="none" stroke="#000" stroke-width="2.7" stroke-dasharray="6.2 3.6">
  <polyline points="177,195.5 188.5,224 232.5,224 241.5,208.7 252,192"/>
  <polyline points="241.5,208.7 272.3,272.2 306.7,274.3 314.2,263.5 384,267.8 435.7,196.9"/>
  <polyline points="467,196 505,290 567,294 615,254 670,257 681,248 710,248 754,195"/>
</g>

<!-- dimension lines -->
<line x1="145.5" y1="192" x2="145.5" y2="284" stroke="#222" stroke-width="1"/>
<line x1="139" y1="275" x2="269" y2="275" stroke="#999" stroke-width="1.2"/>
<line x1="774.5" y1="196" x2="774.5" y2="318" stroke="#222" stroke-width="1"/>
<line x1="673.5" y1="302.3" x2="785.5" y2="308.7" stroke="#222" stroke-width="1"/>
<!-- Elev axis -->
<line x1="422.5" y1="154.4" x2="419.5" y2="423" stroke="#3434c8" stroke-width="1"/>


<text class="t" x="64.48" y="158.9" font-size="15.5" fill="#222" textLength="21.20" lengthAdjust="spacingAndGlyphs">NE</text>
<text class="t" x="826.75" y="159.7" font-size="15.5" fill="#222" textLength="23.34" lengthAdjust="spacingAndGlyphs">SW</text>
<text class="t" x="107.49" y="255.4" font-size="11.7" fill="#333" textLength="31.79" lengthAdjust="spacingAndGlyphs">380m</text>
<text class="t" x="782.74" y="256.5" font-size="11.7" fill="#333" textLength="32.04" lengthAdjust="spacingAndGlyphs">495m</text>
<text class="t" x="432.70" y="392" font-size="11.7" fill="#333" textLength="30.04" lengthAdjust="spacingAndGlyphs">780m</text>
<text class="t" x="465.28" y="392" font-size="11.7" fill="#333" textLength="29.27" lengthAdjust="spacingAndGlyphs">from</text>
<text class="t" x="441.20" y="406.4" font-size="11.7" fill="#333" textLength="43.90" lengthAdjust="spacingAndGlyphs">surface</text>
<text class="t" x="205.32" y="242.8" font-size="12.8" font-weight="bold" fill="#000" textLength="12.99" lengthAdjust="spacingAndGlyphs">J5</text>
<text class="t" x="310.82" y="287" font-size="12.8" font-weight="bold" fill="#000" textLength="13.27" lengthAdjust="spacingAndGlyphs">J4</text>
<text class="t" x="739.97" y="243.5" font-size="12.8" font-weight="bold" fill="#000" textLength="18.90" lengthAdjust="spacingAndGlyphs">Z87</text>
<text class="t" x="731.62" y="259" font-size="12.8" font-weight="bold" fill="#000" textLength="36.18" lengthAdjust="spacingAndGlyphs">South</text>
<text class="t" x="568.62" y="347.9" font-size="12.8" font-weight="bold" fill="#000" textLength="21.93" lengthAdjust="spacingAndGlyphs">Z87</text>
<text class="t" x="593.16" y="347.9" font-size="12.8" font-weight="bold" fill="#000" textLength="20.95" lengthAdjust="spacingAndGlyphs">UG</text>
<text class="t" x="388.62" y="154.9" font-size="10" fill="#9a9ae8" textLength="34.22" lengthAdjust="spacingAndGlyphs">Elev (Z)</text>
<text class="t" x="31.59" y="342.6" font-size="10" fill="#b4e4b4" textLength="41.03" lengthAdjust="spacingAndGlyphs">North (Y)</text>
<text class="t" x="857.15" y="393.7" font-size="9" fill="#f0a8b0" textLength="38.51" lengthAdjust="spacingAndGlyphs">East (X)</text>
<text class="t" x="66.77" y="368.5" font-size="15" fill="#111" textLength="61.88" lengthAdjust="spacingAndGlyphs">g/t Aueq.</text>
<text class="t" x="130.77" y="387.3" font-size="12.8" fill="#111" textLength="51.79" lengthAdjust="spacingAndGlyphs">0.3 – 0.5</text>
<text class="t" x="130.77" y="405.5" font-size="12.8" fill="#111" textLength="51.86" lengthAdjust="spacingAndGlyphs">0.5 – 0.9</text>
<text class="t" x="130.59" y="424" font-size="12.8" fill="#111" textLength="32.08" lengthAdjust="spacingAndGlyphs">&gt; 0.9</text>
<text class="t" x="259.66" y="427.8" font-size="11.5" font-weight="bold" fill="#111" textLength="126.82" lengthAdjust="spacingAndGlyphs">Limit of Resource Shell</text>

<!-- legend -->
<g stroke="#555" stroke-width="1" stroke-dasharray="1 1.2" fill="none">
  <line x1="93.3" y1="375" x2="93.3" y2="422"/>
  <line x1="93.3" y1="384.5" x2="106" y2="384.5"/>
  <line x1="93.3" y1="403.2" x2="106" y2="403.2"/>
  <line x1="93.3" y1="421.6" x2="106" y2="421.6"/>
</g>
<g stroke="#111" stroke-width="1.5">
  <rect x="110" y="379" width="11" height="11" fill="#f6d416"/>
  <rect x="110" y="397.6" width="11" height="11" fill="#f06828"/>
  <rect x="110" y="416" width="11" height="11" fill="#8a0c0c"/>
</g>
<polyline points="204.8,413.8 214.2,428.6 241,427.8 251.3,412.5" fill="none" stroke="#000" stroke-width="2.7" stroke-dasharray="6.2 3.6"/>

<!-- Table -->
<line x1="44" y1="547.8" x2="869" y2="547.8" stroke="#2e3d8f" stroke-width="3.2"/>
<g stroke="#c8c8c8" stroke-width="2">
  <line x1="44" y1="571" x2="869" y2="571"/>
  <line x1="44" y1="593.8" x2="869" y2="593.8"/>
  <line x1="44" y1="616.4" x2="869" y2="616.4"/>
</g>

<text class="t" x="48.06" y="509" font-size="14" font-weight="bold" fill="#111" textLength="88.49" lengthAdjust="spacingAndGlyphs">Classification</text>
<text class="t" x="48.04" y="531" font-size="14" font-weight="bold" fill="#111" textLength="178.24" lengthAdjust="spacingAndGlyphs">0.30 g/t OP and 0.90 g/t UG</text>
<text class="t" x="48.26" y="564.9" font-size="14" font-weight="bold" fill="#111" textLength="217.56" lengthAdjust="spacingAndGlyphs">Total Open Pit and Underground</text>
<text class="t" x="47.19" y="588.6" font-size="14" fill="#111" textLength="63.71" lengthAdjust="spacingAndGlyphs">Indicated</text>
<text class="t" x="47.12" y="610.8" font-size="14" fill="#111" textLength="56.78" lengthAdjust="spacingAndGlyphs">Inferred</text>
<text class="t" x="286.76" y="498.4" font-size="14" font-weight="bold" fill="#111" textLength="57.16" lengthAdjust="spacingAndGlyphs">Tonnage</text>
<text class="t" x="300.08" y="520.5" font-size="14" font-weight="bold" fill="#111" textLength="30.20" lengthAdjust="spacingAndGlyphs">(Mt)</text>
<text class="t" x="423.94" y="498.4" font-size="14" font-weight="bold" fill="#111" textLength="19.46" lengthAdjust="spacingAndGlyphs">Au</text>
<text class="t" x="416.68" y="520.5" font-size="14" font-weight="bold" fill="#111" textLength="31.01" lengthAdjust="spacingAndGlyphs">(g/t)</text>
<text class="t" x="500.92" y="498.4" font-size="14" font-weight="bold" fill="#111" textLength="19.26" lengthAdjust="spacingAndGlyphs">Cu</text>
<text class="t" x="571.86" y="498.4" font-size="14" font-weight="bold" fill="#111" textLength="35.85" lengthAdjust="spacingAndGlyphs">AuEq</text>
<text class="t" x="634.03" y="498.4" font-size="14" font-weight="bold" fill="#111" textLength="69.88" lengthAdjust="spacingAndGlyphs">Contained</text>
<text class="t" x="713.63" y="498.4" font-size="14" font-weight="bold" fill="#111" textLength="69.88" lengthAdjust="spacingAndGlyphs">Contained</text>
<text class="t" x="793.93" y="498.4" font-size="14" font-weight="bold" fill="#111" textLength="69.88" lengthAdjust="spacingAndGlyphs">Contained</text>
<g class="t" font-size="14" font-weight="bold" fill="#111" text-anchor="middle">
<text x="510.5" y="520.5">(%)</text>
<text x="589.5" y="520.5">(g/t)</text>
<text x="668.8" y="520.5">Gold</text>
<text x="668.8" y="541.5">(Moz)</text>
<text x="748" y="520.5">Copper</text>
<text x="748" y="541.5">(Mlb)</text>
<text x="828.7" y="520.5">AuEq</text>
<text x="828.7" y="541.5">(Moz)</text>
</g>
<text class="t" x="297.13" y="588.6" font-size="14" fill="#111" textLength="35.72" lengthAdjust="spacingAndGlyphs">121.7</text>
<text class="t" x="419.95" y="588.6" font-size="14" fill="#111" textLength="26.86" lengthAdjust="spacingAndGlyphs">0.87</text>
<text class="t" x="493.42" y="588.6" font-size="14" fill="#111" textLength="36.19" lengthAdjust="spacingAndGlyphs">0.086</text>
<text class="t" x="575.59" y="588.6" font-size="14" fill="#111" textLength="28.74" lengthAdjust="spacingAndGlyphs">1.00</text>
<text class="t" x="655.25" y="588.6" font-size="14" fill="#111" textLength="26.75" lengthAdjust="spacingAndGlyphs">3.40</text>
<text class="t" x="730.58" y="588.6" font-size="14" fill="#111" textLength="36.03" lengthAdjust="spacingAndGlyphs">231.8</text>
<text class="t" x="813.71" y="588.6" font-size="14" fill="#111" textLength="28.75" lengthAdjust="spacingAndGlyphs">3.92</text>
<g class="t" font-size="14" fill="#111" text-anchor="middle">
<text x="315.5" y="610.8">36.1</text>
<text x="433.3" y="610.8">0.88</text>
<text x="511.5" y="610.8">0.083</text>
<text x="590.2" y="610.8">1.01</text>
<text x="668.7" y="610.8">1.02</text>
<text x="748.6" y="610.8">66.2</text>
<text x="828" y="610.8">1.17</text>
</g>

<!-- Footer logo -->
<g>
  <path d="M731.2,668.3 L739,668.3 L739,669.6 L736.2,669.6 L736.2,680.5 L741.4,684.5 L738,684.5 L732,680.5 L732,669.6 L731.2,669.6 Z" fill="#5b80c4"/>
  <path d="M772.9,668.3 L764.2,668.3 L764.2,669.6 L768.4,669.6 L768.4,680.5 L762,684.5 L765.4,684.5 L771.2,680.5 L771.2,669.6 L772.9,669.6 Z" fill="#5b80c4"/>
  <path d="M737.2,665 L765.9,665 L765.9,667.7 L764.2,667.7 L764.2,679 L751.6,684.8 L739,679 L739,667.7 L737.2,667.7 Z M742.5,667.7 L742.5,678.2 L751.6,682.6 L761,678.2 L761,667.7 Z" fill="#27348b" fill-rule="evenodd"/>
</g>

<text class="t" x="778.02" y="680.5" font-size="16.8" font-weight="bold" fill="#111" textLength="11.18" lengthAdjust="spacingAndGlyphs">T</text>
<text class="t" x="791.54" y="680.5" font-size="16.8" font-weight="bold" fill="#111" textLength="12.85" lengthAdjust="spacingAndGlyphs">R</text>
<text class="t" x="806.50" y="680.5" font-size="16.8" font-weight="bold" fill="#111" textLength="15.56" lengthAdjust="spacingAndGlyphs">O</text>
<text class="t" x="823.30" y="680.5" font-size="16.8" font-weight="bold" fill="#111" textLength="7.28" lengthAdjust="spacingAndGlyphs">I</text>
<text class="t" x="831.84" y="680.5" font-size="16.8" font-weight="bold" fill="#111" textLength="10.91" lengthAdjust="spacingAndGlyphs">L</text>
<text class="t" x="844.82" y="680.5" font-size="16.8" font-weight="bold" fill="#111" textLength="14.20" lengthAdjust="spacingAndGlyphs">U</text>
<text class="t" x="860.54" y="680.5" font-size="16.8" font-weight="bold" fill="#111" textLength="10.23" lengthAdjust="spacingAndGlyphs">S</text>
<line x1="887.5" y1="669.5" x2="887.5" y2="680.8" stroke="#333" stroke-width="1.2"/>
<text class="t" x="900.04" y="679" font-size="12.5" fill="#333" textLength="14.28" lengthAdjust="spacingAndGlyphs">14</text>
</svg>
</body></html>
